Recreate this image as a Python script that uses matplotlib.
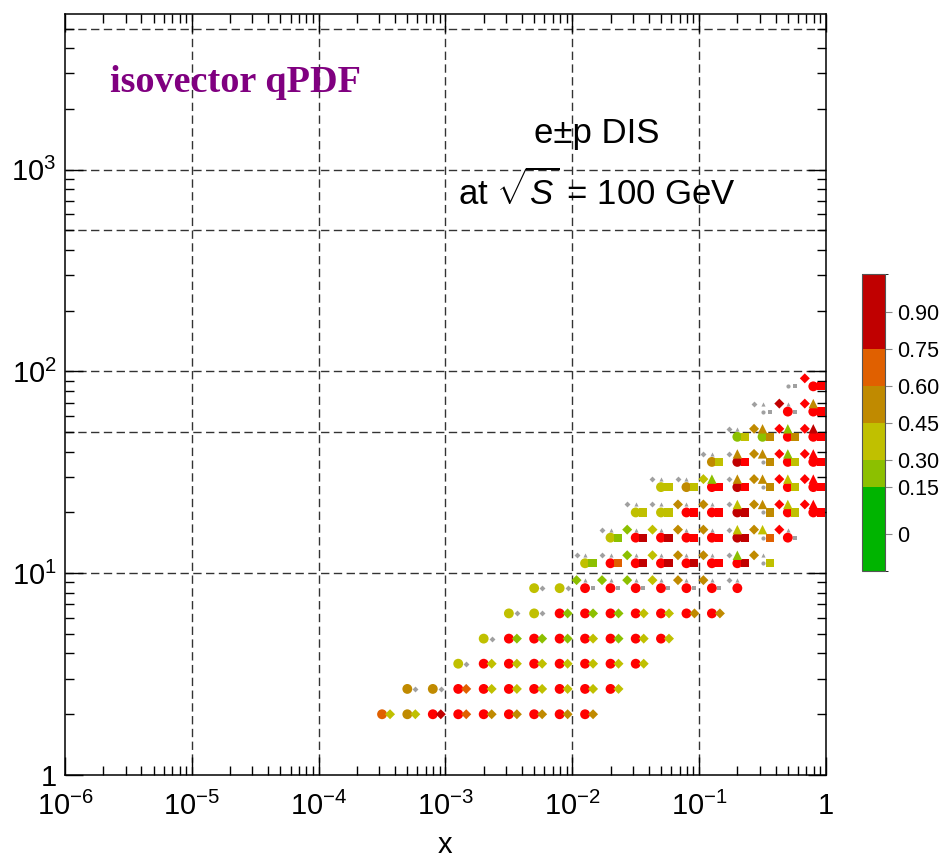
import numpy as np
import matplotlib
matplotlib.use("Agg")
import matplotlib.pyplot as plt
from matplotlib.colors import ListedColormap, BoundaryNorm
from matplotlib.cm import ScalarMappable
from matplotlib.transforms import ScaledTranslation
from matplotlib.ticker import FixedLocator, LogLocator, NullFormatter

plt.rcParams['font.family'] = ['Liberation Sans', 'DejaVu Sans']
plt.rcParams['mathtext.fontset'] = 'custom'
plt.rcParams['mathtext.rm'] = 'Liberation Sans'
plt.rcParams['mathtext.it'] = 'Liberation Sans:italic'
plt.rcParams['mathtext.bf'] = 'Liberation Sans:bold'

nan = np.nan
DPI = 100

# kinematic bins (x, Q^2)
x_bins = [3.16e-4, 5.0e-4, 7.94e-4, 1.26e-3, 2.0e-3, 3.16e-3, 5.0e-3, 7.94e-3,
          1.26e-2, 2.0e-2, 3.16e-2, 5.0e-2, 7.94e-2, 0.126, 0.2, 0.316, 0.5, 0.794]
q2_bins = [2.0, 2.67, 3.56, 4.74, 6.32, 8.43, 11.2, 15.0, 20.0, 26.7, 35.6, 47.4, 63.2, 84.3]

# per Q^2 row: (index of first x bin, values) ; nan -> grey point
circle_vals = {
    0: (0, [0.68, 0.52, 1.1, 1.1, 1.1, 1.1, 1.1, 1.1, 1.1]),
    1: (1, [0.52, 0.52, 1.1, 1.1, 1.1, 1.1, 1.1, 1.1, 1.1]),
    2: (3, [0.38, 1.1, 1.1, 1.1, 1.1, 1.1, 1.1, 1.1]),
    3: (4, [0.38, 1.1, 1.1, 1.1, 1.1, 1.1, 1.1, 1.1]),
    4: (5, [0.38, 0.38, 1.1, 1.1, 1.1, 1.1, 1.1, 1.1, 1.1]),
    5: (6, [0.38, 0.38, 1.1, 1.1, 1.1, 1.1, 1.1, 1.1, 1.1]),
    6: (8, [0.38, 1.1, 1.1, 1.1, 1.1, 1.1, 1.1, nan]),
    7: (9, [0.38, 1.1, 1.1, 1.1, 1.1, 0.85, nan, 1.1]),
    8: (10, [0.38, 0.38, 1.1, 1.1, 0.85, nan, 1.1, 1.1]),
    9: (11, [0.38, 0.52, 1.1, 0.85, nan, 1.1, 1.1]),
    10: (13, [0.52, 0.85, nan, 1.1, 1.1]),
    11: (14, [0.22, 0.22, 1.1, 1.1]),
    12: (15, [nan, 1.1, 1.1]),
    13: (16, [nan, 1.1]),
}
side_diamond_vals = {
    0: (0, [0.38, 0.38, 0.85, 0.68, 0.52, 0.52, 0.52, 0.52, 0.52]),
    1: (1, [nan, nan, 0.68, 0.38, 0.38, 0.38, 0.38, 0.38, 0.38]),
    2: (3, [nan, 0.38, 0.38, 0.38, 0.38, 0.38, 0.38, 0.38]),
    3: (4, [nan, 0.22, 0.22, 0.22, 0.38, 0.22, 0.38, 0.38]),
    4: (5, [nan, nan, 0.22, 0.22, 0.22, 0.38, 0.38, 0.52, 0.52]),
    5: (6, [nan, nan]),
}
square_vals = {
    5: (8, [nan, nan, nan, nan, nan, nan]),
    6: (8, [0.22, 0.68, 0.85, 0.85, 0.85, 1.1, 0.85, 0.38]),
    7: (9, [0.22, 0.85, 0.85, 1.1, 1.1, 0.85, 0.68, nan]),
    8: (10, [0.38, 0.38, 1.1, 1.1, 0.85, 0.52, 0.38, 1.1]),
    9: (11, [0.38, 0.38, 1.1, 1.1, 0.52, 0.38, 1.1]),
    10: (13, [0.38, 1.1, 0.52, 0.38, 1.1]),
    11: (14, [0.38, 0.52, 0.52, 1.1]),
    12: (15, [nan, nan, 1.1]),
    13: (16, [nan, 1.1]),
}
diamond_vals = {
    5: (8, [0.22, 0.22, 0.22, 0.38, 0.52, 0.52, nan]),
    6: (8, [nan, nan, 0.22, 0.38, 0.52, 0.52, nan, 0.52]),
    7: (9, [nan, 0.22, 0.38, 0.52, 0.52, nan, 0.52, 1.1]),
    8: (10, [nan, nan, 0.52, 0.52, nan, 0.52, 1.1, 1.1]),
    9: (11, [nan, nan, 0.38, nan, 0.52, 1.1, 1.1]),
    10: (13, [nan, nan, 0.52, 1.1, 1.1]),
    11: (14, [nan, 0.52, 1.1, 1.1]),
    12: (15, [nan, 0.85, 1.1]),
    13: (17, [1.1]),
}
triangle_vals = {
    5: (8, [nan, nan, nan, nan, nan, nan, nan]),
    6: (8, [nan, nan, nan, nan, nan, nan, 0.22, nan]),
    7: (9, [nan, nan, nan, nan, nan, 0.38, 0.38, nan]),
    8: (10, [nan, nan, nan, nan, 0.38, 0.52, 0.38, 1.1]),
    9: (11, [nan, nan, 0.22, 0.52, 0.52, 0.38, 1.1]),
    10: (13, [nan, 0.52, 0.52, 0.22, 1.1]),
    11: (14, [nan, 0.52, 0.22, 0.85]),
    12: (15, [nan, nan, 0.52]),
}

cbar_colors = ['#00b400', '#8cc000', '#c0c000', '#c08a00', '#e06000', '#c00000']
cbar_bounds = [-0.3, 0.15, 0.30, 0.45, 0.60, 0.75, 1.0]
cbar_ticks = ['0', '0.15', '0.30', '0.45', '0.60', '0.75', '0.90']
cbar_tick_pos = [0.125, 0.283, 0.374, 0.4975, 0.623, 0.747, 0.872]
cbar_seg_pos = [0.0, 0.283, 0.374, 0.4975, 0.623, 0.747, 1.0]

x_ticks = [1e-6, 1e-5, 1e-4, 1e-3, 1e-2, 1e-1, 1]
x_labels = [r'$10^{-6}$', r'$10^{-5}$', r'$10^{-4}$', r'$10^{-3}$', r'$10^{-2}$', r'$10^{-1}$', '1']
y_ticks = [1, 10, 100, 1000]
y_labels = ['1', r'$10^{1}$', r'$10^{2}$', r'$10^{3}$']
x_grid = [1e-5, 1e-4, 1e-3, 1e-2, 1e-1]
y_grid = [10, 50, 100, 500, 1000, 5000]


def unpack(rows):
    xs, ys, vs = [], [], []
    for k, (n0, vals) in rows.items():
        for i, v in enumerate(vals):
            xs.append(x_bins[n0 + i])
            ys.append(q2_bins[k])
            vs.append(v)
    return np.array(xs), np.array(ys), np.array(vs, dtype=float)


fig = plt.figure(figsize=(9.45, 8.6), dpi=DPI)
ax = fig.add_axes([65 / 945, 1 - 775 / 860, 761 / 945, 761 / 860])
ax.set_xscale('log')
ax.set_yscale('log')
ax.set_xlim(1e-6, 1)
ax.set_ylim(1, 5900)

for gx in x_grid:
    ax.axvline(gx, color='#333333', lw=1.0, dashes=(6, 3.2), zorder=1)
for gy in y_grid:
    ax.axhline(gy, color='#333333', lw=1.0, dashes=(6, 3.2), zorder=1)

cmap = ListedColormap(cbar_colors)
cmap.set_over('#ff0000')
norm = BoundaryNorm(cbar_bounds, cmap.N)

# (values, marker, markersize pt, offset px right, offset px up)
series = [
    (circle_vals, 'o', 7.1, 0, 0),
    (side_diamond_vals, 'D', 5.1, 8, 0),
    (square_vals, 's', 5.9, 7.5, 0),
    (diamond_vals, 'D', 5.1, -8.5, 8),
    (triangle_vals, '^', 6.8, 0, 8),
]

for z, (rows, marker, ms, dx, dy) in enumerate(series):
    x, y, v = unpack(rows)
    tr = ax.transData + ScaledTranslation(dx / DPI, dy / DPI, fig.dpi_scale_trans)
    ok = ~np.isnan(v)
    ax.scatter(x[~ok], y[~ok], s=3.0 ** 2, marker=marker, color='#a0a0a0',
               linewidths=0, transform=tr, zorder=3)
    ax.scatter(x[ok], y[ok], c=v[ok], cmap=cmap, norm=norm, s=ms ** 2,
               marker=marker, linewidths=0, transform=tr, zorder=4 + z)

ax.xaxis.set_major_locator(FixedLocator(x_ticks))
ax.set_xticklabels(x_labels)
ax.yaxis.set_major_locator(FixedLocator(y_ticks))
ax.set_yticklabels(y_labels)
ax.xaxis.set_minor_locator(LogLocator(base=10, subs=np.arange(2, 10), numticks=20))
ax.yaxis.set_minor_locator(LogLocator(base=10, subs=np.arange(2, 10), numticks=20))
ax.xaxis.set_minor_formatter(NullFormatter())
ax.yaxis.set_minor_formatter(NullFormatter())
ax.tick_params(which='both', direction='in', top=True, right=True, width=1.0, color='black')
ax.tick_params(which='major', length=13, labelsize=21)
ax.tick_params(which='minor', length=6.5)
ax.tick_params(axis='x', which='major', pad=12)
ax.tick_params(axis='y', which='major', pad=6)
for sp in ax.spines.values():
    sp.set_linewidth(1.1)

fig.text(445 / 945, 1 - 845 / 860, 'x', fontsize=21, ha='center', va='center')
fig.text(236 / 945, 1 - 82 / 860, 'isovector qPDF', fontsize=27.5, color='#800080',
         family='Liberation Serif', weight='bold', ha='center', va='center')
fig.text(597 / 945, 1 - 133 / 860, 'e\u00b1p DIS', fontsize=25, ha='center', va='center')
fig.text(597 / 945, 1 - 191 / 860, r'at $\sqrt{S}$ = 100 GeV', fontsize=25,
         ha='center', va='center')

# colour legend
cax = fig.add_axes([862 / 945, 1 - 571 / 860, 23 / 945, 297 / 860])
cb_norm = BoundaryNorm(cbar_seg_pos, cmap.N)
cb = fig.colorbar(ScalarMappable(norm=cb_norm, cmap=ListedColormap(cbar_colors)),
                  cax=cax, spacing='proportional')
cb.set_ticks(cbar_tick_pos, labels=cbar_ticks)
cb.ax.tick_params(length=5, width=0.8, color='#888888', labelsize=15.5, pad=4)
cb.outline.set_linewidth(0.8)
cb.outline.set_edgecolor('#555555')

fig.savefig('out.png', dpi=DPI)
